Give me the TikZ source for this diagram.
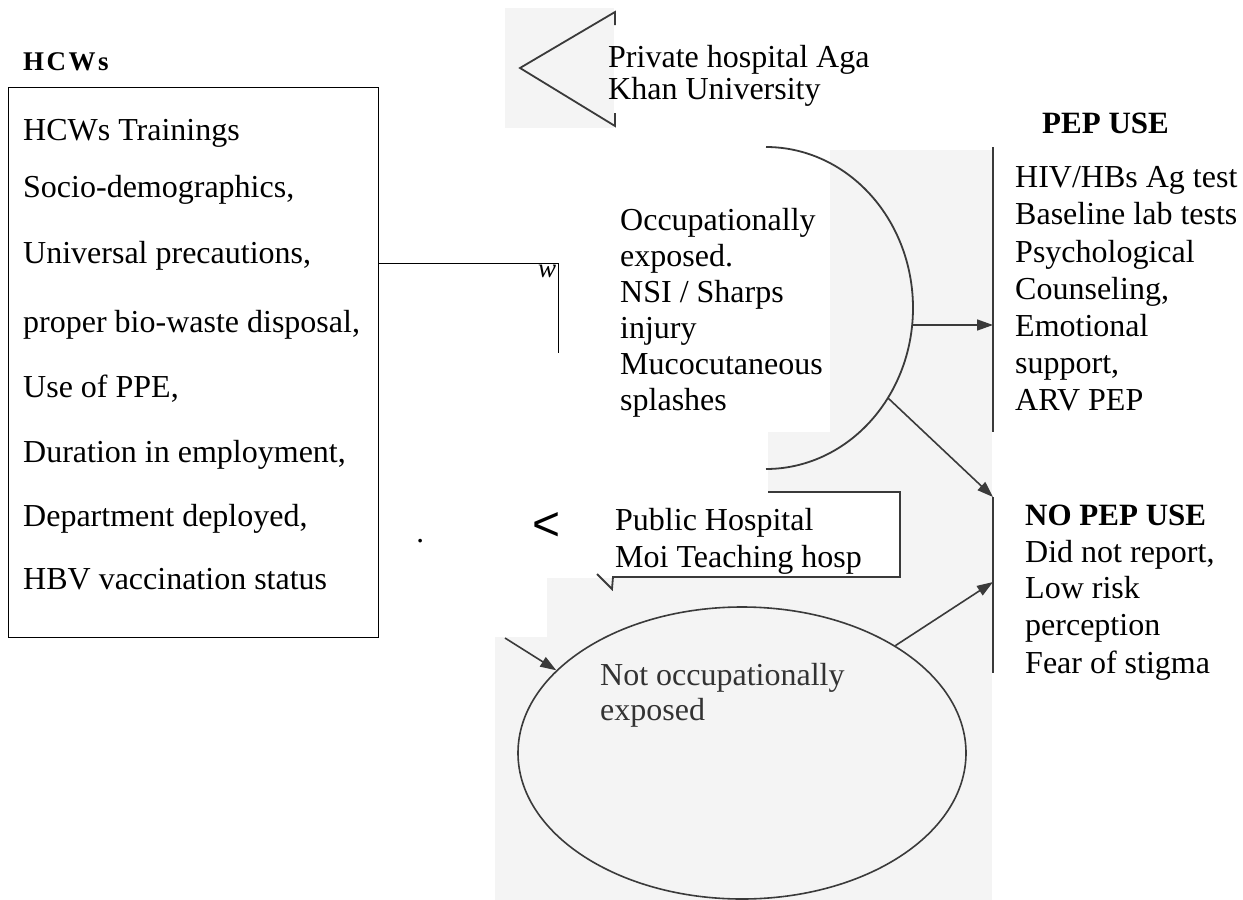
\documentclass[tikz,border=0pt]{standalone}
\usepackage{fontspec}
\setmainfont{Liberation Serif}
\newfontfamily\sansf{Liberation Sans}
\usetikzlibrary{arrows.meta,shapes.geometric}
\definecolor{scanline}{HTML}{3A3A3A}
\definecolor{scantext}{HTML}{333333}
\definecolor{scanbg}{HTML}{F4F4F4}
\begin{document}
\begin{tikzpicture}[x=1pt,y=-1pt,
  txt/.style={inner sep=0pt, anchor=base west, font=\fontsize{32}{37}\selectfont},
  boldtxt/.style={txt, font=\fontsize{31}{37}\selectfont\bfseries},
  thinline/.style={draw=black, line width=1pt},
  scanpath/.style={draw=scanline, line width=1.8pt},
  scanarrow/.style={draw=scanline, line width=1.6pt, -{Triangle[length=16pt,width=11pt]}},
]
\useasboundingbox (0,0) rectangle (1243,900);
% faint scanned background patches
\fill[scanbg] (505,8) rectangle (614,128);
\fill[scanbg] (830,150) rectangle (992,432);
\fill[scanbg] (768,432) rectangle (992,900);
\fill[scanbg] (547,578) rectangle (768,900);
\fill[scanbg] (495,637) rectangle (547,900);
\fill[white] (613,492) rectangle (900,577);

% ---- HCWs box ----
\node[inner sep=0pt, anchor=base west, font=\fontsize{27}{30}\selectfont\bfseries] (title) at (23,70) {H\kern2.5pt C\kern2.5pt W\kern2.5pt s};
\node[draw=black, line width=1pt, inner sep=0pt, minimum width=370pt, minimum height=550pt, anchor=north west] (hcw) at (8,87) {};
\foreach \t/\y [count=\i] in {{HCWs Trainings}/140,{Socio-demographics,}/197,{Universal precautions,}/263,{proper bio-waste disposal,}/332,{Use of PPE,}/397,{Duration in employment,}/462,{Department deployed,}/526,{HBV vaccination status}/589}
  \node[txt] (l\i) at (23,\y) {\t};

% connector out of the box
\coordinate (wend) at (558,353);
\draw[thinline] (hcw.east |- 0,263) -- (558,263) -- (wend);
\node[inner sep=0pt, anchor=base west, font=\fontsize{27}{30}\selectfont\itshape] (wmark) at (538,277) {w};

% ---- Private hospital chevron ----
\draw[scanpath] (615,25) -- (615,12) -- (520,68) -- (615,126) -- (615,113);
\node[txt] (priv1) at (608,67) {Private hospital Aga};
\node[txt] (priv2) at (608,99) {Khan University};

% ---- Occupationally exposed (half ellipse) ----
\draw[scanpath] plot[domain=-90:90, samples=90, smooth] ({766+147*cos(\x)},{308+161*sin(\x)});
\coordinate (occE) at (912,325);
\coordinate (occSE) at (888,398);
\foreach \t/\y [count=\i] in {{Occupationally}/230,{exposed.}/266,{NSI / Sharps}/302,{injury}/338,{Mucocutaneous}/374,{splashes}/410}
  \node[txt] (o\i) at (620,\y) {\t};

% ---- PEP USE ----
\node[inner sep=0pt, minimum width=250pt, minimum height=285pt, anchor=north west] (pep) at (993,147) {};
\draw[scanpath] (pep.north west) -- (pep.south west);
\node[boldtxt] (pephead) at (1042,133) {PEP USE};
\foreach \t/\y [count=\i] in {{HIV/HBs Ag test}/187,{Baseline lab tests}/224,{Psychological}/262,{Counseling,}/299,{Emotional}/336,{support,}/373,{ARV PEP}/410}
  \node[txt] (p\i) at (1015,\y) {\t};

% ---- NO PEP USE ----
\node[inner sep=0pt, minimum width=250pt, minimum height=176pt, anchor=north west] (nopep) at (993,497) {};
\draw[scanpath] (nopep.north west) -- (nopep.south west);
\node[boldtxt] (nopephead) at (1025,525) {NO PEP USE};
\foreach \t/\y [count=\i] in {{Did not report,}/562,{Low risk}/598,{perception}/635,{Fear of stigma}/673}
  \node[txt] (n\i) at (1025,\y) {\t};

% ---- Public hospital callout ----
\draw[scanpath, line join=miter] (768,492) -- (900,492) -- (900,577) -- (613,577) -- (612,589) -- (597,574);
\node[txt] (pub1) at (615,530) {Public Hospital};
\node[txt] (pub2) at (615,567) {Moi Teaching hosp};
\node[inner sep=0pt, font=\sansf\fontsize{48}{50}\selectfont] (lt) at (547,527) {<};
\node[inner sep=0pt, font=\fontsize{31}{37}\selectfont\itshape] (dot) at (421,541) {.};

% ---- Not occupationally exposed ----
\node[draw=scanline, line width=1.6pt, shape=ellipse, inner sep=0pt, minimum width=448pt, minimum height=292pt] (notexp) at (742,753) {};
\node[txt, text=scantext] (ne1) at (600,685) {Not occupationally};
\node[txt, text=scantext] (ne2) at (600,720) {exposed};
\coordinate (inL) at (505,638);

% ---- arrows ----
\draw[scanarrow] (occE) -- (pep.west |- occE);
\draw[scanarrow] (occSE) -- (nopep.north west);
\draw[scanarrow] (notexp.35) -- (nopep.west |- 0,582);
\draw[scanarrow] (inL) -- (notexp.156);
\end{tikzpicture}
\end{document}
